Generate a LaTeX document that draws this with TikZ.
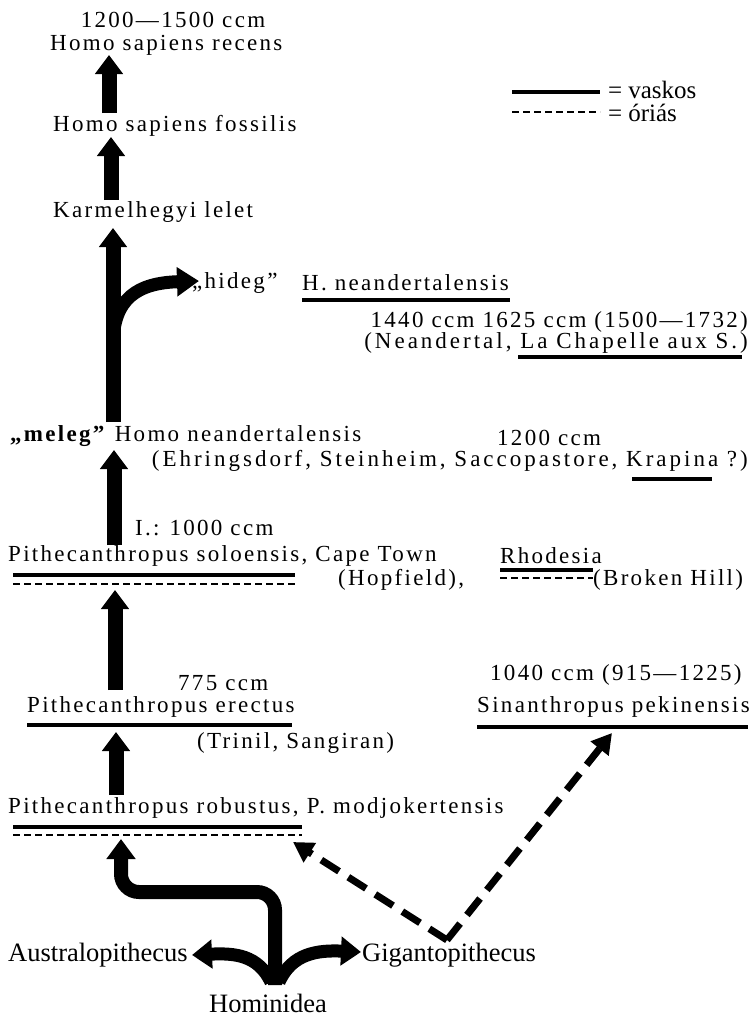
\documentclass[tikz,border=0pt]{standalone}
\usepackage{fontspec}
\setmainfont{Liberation Serif}
\newfontfamily\lsfont{Liberation Serif}[LetterSpace=10]
\newfontfamily\lswide{Liberation Serif}[LetterSpace=13]
\usetikzlibrary{arrows.meta}
\begin{document}
\begin{tikzpicture}[x=1pt,y=-1pt,
  txt/.style={inner sep=0pt, font=\lsfont\fontsize{23}{26}\selectfont},
  wtxt/.style={inner sep=0pt, font=\lswide\fontsize{23}{26}\selectfont},
  big/.style={inner sep=0pt, font=\fontsize{26.5}{30}\selectfont},
  leg/.style={inner sep=0pt, font=\fontsize{25}{28}\selectfont},
  fat/.style={line width=15pt, -{Triangle[width=27pt,length=19pt]}},
  fatb/.style={line width=14pt, -{Triangle[width=28pt,length=20pt]}, rounded corners=18pt},
  darr/.style={line width=7pt, dash pattern=on 21pt off 11pt, -{Triangle[width=22pt,length=20pt]}},
  ul/.style={line width=3.2pt},
  dl/.style={line width=2.6pt, dash pattern=on 7pt off 4pt}]
\useasboundingbox (0,0) rectangle (751,1021);
\fill[white] (0,0) rectangle (751,1021);

% texts
\node[txt] (t1) at (173,20) {1200—1500 ccm};
\node[txt, anchor=west] (t2) at (50,45) {Homo sapiens recens};
\node[txt, anchor=west] (t3) at (53,126) {Homo sapiens fossilis};
\node[txt, anchor=west] (t4) at (53,212) {Karmelhegyi lelet};
\node[txt, anchor=west] (hid) at (192,283) {„hideg”};
\node[txt, anchor=west] (hne) at (302,283) {H. neandertalensis};
\node[txt, anchor=east] (c1440) at (748,322) {1440 ccm 1625 ccm (1500—1732)};
\node[wtxt, anchor=east] (nea) at (748,343) {(Neandertal, La Chapelle aux S.)};
\node[txt, anchor=west] (mel) at (10,436) {\textbf{„meleg”} Homo neandertalensis};
\node[txt, anchor=west] (c1200) at (497,438) {1200 ccm};
\node[wtxt, anchor=east] (ehr) at (748,461) {(Ehringsdorf, Steinheim, Saccopastore, Krapina ?)};
\node[txt, anchor=west] (c1000) at (135,528) {I.:\hspace{10pt}1000\hspace{8pt}ccm};
\node[txt, anchor=west] (solo) at (8,556) {Pithecanthropus soloensis, Cape Town};
\node[txt, anchor=west] (hop) at (338,580) {(Hopfield),};
\node[txt, anchor=west] (rho) at (500,556) {Rhodesia};
\node[txt, anchor=west] (bro) at (593,580) {(Broken Hill)};
\node[txt, anchor=west] (c775) at (178,683) {775 ccm};
\node[txt, anchor=west] (ere) at (27,707) {Pithecanthropus erectus};
\node[txt, anchor=west] (tri) at (197,743) {(Trinil, Sangiran)};
\node[txt, anchor=west] (c1040) at (490,675) {1040 ccm (915—1225)};
\node[txt, anchor=west] (sin) at (477,707) {Sinanthropus pekinensis};
\node[txt, anchor=west] (rob) at (8,808) {Pithecanthropus robustus, P. modjokertensis};
\node[big, anchor=west] (aus) at (8,955) {Australopithecus};
\node[big, anchor=west] (gig) at (362,955) {Gigantopithecus};
\node[big] (hom) at (268,1003) {Hominidea};
\node[leg, anchor=west] (vas) at (608,90) {=\hspace{6pt}vaskos};
\node[leg, anchor=west] (ori) at (608,113) {=\hspace{6pt}óriás};

% legend lines
\draw[line width=3.6pt] (512,92) -- (600,92);
\draw[dl] (512,112) -- (600,112);

% underlines
\draw[ul] (302,300) -- (510,300);
\draw[ul] (518,357) -- (742,357);
\draw[ul] (632,479) -- (712,479);
\draw[ul] (13,575) -- (295,575);
\draw[dl] (13,584) -- (295,584);
\draw[ul] (500,570) -- (593,570);
\draw[dl] (500,578) -- (593,578);
\draw[ul] (27,725) -- (292,725);
\draw[ul] (477,727) -- (748,727);
\draw[ul] (13,827) -- (302,827);
\draw[dl] (13,835) -- (302,835);

% arrow coordinates
\coordinate (a1s) at (109,113); \coordinate (a1e) at (109,55);
\coordinate (a2s) at (111,200); \coordinate (a2e) at (111,137);
\coordinate (a3s) at (113,422); \coordinate (a3e) at (113,228);
\coordinate (brs) at (113,345); \coordinate (bre) at (199,281);
\coordinate (a4s) at (114,545); \coordinate (a4e) at (114,450);
\coordinate (a5s) at (115,690); \coordinate (a5e) at (115,590);
\coordinate (a6s) at (116,795); \coordinate (a6e) at (116,732);
\coordinate (root) at (275,985);
\coordinate (robtip) at (121,839);
\coordinate (austip) at (192,955);
\coordinate (gigtip) at (361,952);
\coordinate (vee) at (447,940);
\coordinate (sintip) at (612,733);
\coordinate (robdtip) at (293,842);

\draw[fat] (a1s) -- (a1e);
\draw[fat] (a2s) -- (a2e);
\draw[fat] (a3s) -- (a3e);
\draw[line width=13pt, -{Triangle[width=28pt,length=22pt]}] (brs) .. controls (113,298) and (138,283) .. (bre);
\draw[fat] (a4s) -- (a4e);
\draw[fat] (a5s) -- (a5e);
\draw[fat] (a6s) -- (a6e);
\draw[fatb] (root) -- (275,892) -- (121,892) -- (robtip);
\draw[line width=13pt, -{Triangle[width=28pt,length=20pt]}] (271,982) .. controls (258,955) and (235,953) .. (austip);
\draw[line width=13pt, -{Triangle[width=28pt,length=20pt]}] (279,982) .. controls (292,953) and (318,950) .. (gigtip);

\draw[darr] (vee) -- (sintip);
\draw[darr] (vee) -- (robdtip);
\end{tikzpicture}
\end{document}
